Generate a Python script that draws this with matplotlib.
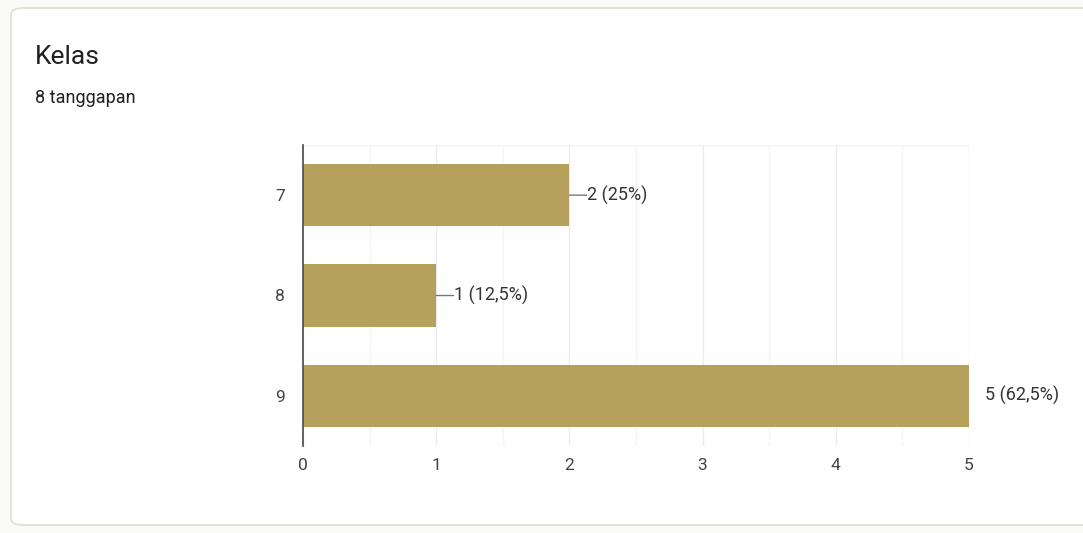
import matplotlib
matplotlib.use("Agg")
import matplotlib.pyplot as plt
from matplotlib.patches import FancyBboxPatch

categories = ["7", "8", "9"]
counts = [2, 1, 5]
labels = ["2 (25%)", "1 (12,5%)", "5 (62,5%)"]
xticks = [0, 1, 2, 3, 4, 5]
title = "Kelas"
subtitle = "8 tanggapan"

plt.rcParams['font.family'] = ['Roboto', 'DejaVu Sans']

W, H = 1083, 533
fig = plt.figure(figsize=(W / 100, H / 100), dpi=100)
fig.patch.set_facecolor('#fafaf8')

card = FancyBboxPatch((11 / W, 8 / H), (W + 20 - 11) / W, (H - 16) / H,
                      boxstyle="round,pad=0,rounding_size=0.012",
                      transform=fig.transFigure, facecolor='white',
                      edgecolor='#e4e2d8', linewidth=1.5, zorder=-5)
fig.patches.append(card)

fig.text(35 / W, 1 - 57 / H, title, fontsize=19, color='#202124', va='center', ha='left')
fig.text(35 / W, 1 - 98 / H, subtitle, fontsize=13, color='#202124', va='center', ha='left')

ax = fig.add_axes([303 / W, 1 - 446 / H, (969 - 303) / W, (446 - 145) / H])
ax.set_zorder(2)
ax.set_facecolor('none')

y = list(range(len(categories)))
ax.barh(y, counts, height=0.62, color='#b5a05c', zorder=2)

ax.set_xlim(0, 5)
ax.set_ylim(2.5, -0.5)
ax.set_yticks(y)
ax.set_yticklabels(categories)
ax.set_xticks(xticks)
ax.set_xticks([x + 0.5 for x in xticks[:-1]], minor=True)
ax.grid(axis='x', which='major', color='#ebebeb', linewidth=1, zorder=0)
ax.grid(axis='x', which='minor', color='#f3f3f3', linewidth=1, zorder=0)
ax.axhline(2.5, color='#ebebeb', linewidth=1, zorder=0)
ax.axhline(-0.5, color='#f3f3f3', linewidth=1, zorder=0)

for s in ['top', 'right', 'bottom']:
    ax.spines[s].set_visible(False)
ax.spines['left'].set_color('#555555')
ax.spines['left'].set_linewidth(1.3)
ax.spines['left'].set_zorder(3)

ax.tick_params(axis='both', which='both', length=0, labelsize=12.5, labelcolor='#444444')
ax.tick_params(axis='x', pad=8.5)
ax.tick_params(axis='y', pad=13)

for yi, (c, lab) in enumerate(zip(counts, labels)):
    if c < 5:
        ax.annotate('', xy=(c, yi), xytext=(c + 0.13, yi),
                    arrowprops=dict(arrowstyle='-', color='#777777', lw=1, shrinkA=0, shrinkB=0))
        ax.text(c + 0.13, yi, lab, va='center', ha='left', fontsize=13, color='#333333')
    else:
        ax.text(c + 0.12, yi, lab, va='center', ha='left', fontsize=13, color='#333333',
                clip_on=False)

fig.savefig('out.png', dpi=100, facecolor=fig.get_facecolor())
